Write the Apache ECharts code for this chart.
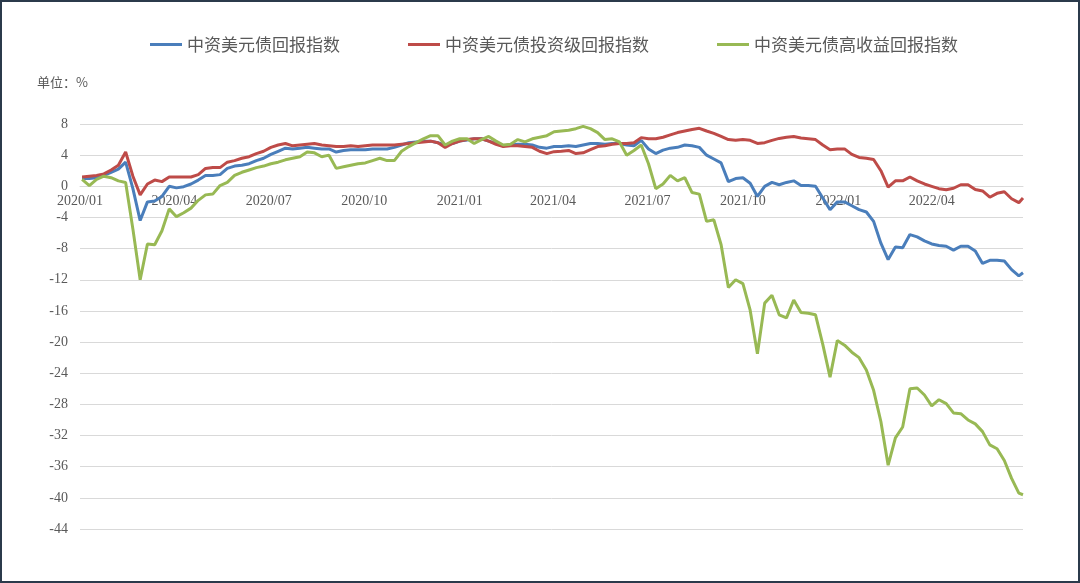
<html><head><meta charset="utf-8"><script src="https://cdn.jsdelivr.net/npm/echarts@6/dist/echarts.min.js"></script><style type="text/css">
        html, body { height: 100%; margin: 0px; padding: 0px; background: #fff; }
    </style></head><body><div id="main" style="width:1080px;height:583px;"></div><script type="text/javascript">
        // weekly (Friday) sampling, last point is the final day of the series
        var dates = [
            '2020-01-03','2020-01-10','2020-01-17','2020-01-24','2020-01-31','2020-02-07','2020-02-14','2020-02-21','2020-02-28',
            '2020-03-06','2020-03-13','2020-03-20','2020-03-27','2020-04-03','2020-04-10','2020-04-17','2020-04-24',
            '2020-05-01','2020-05-08','2020-05-15','2020-05-22','2020-05-29','2020-06-05','2020-06-12','2020-06-19','2020-06-26',
            '2020-07-03','2020-07-10','2020-07-17','2020-07-24','2020-07-31','2020-08-07','2020-08-14','2020-08-21','2020-08-28',
            '2020-09-04','2020-09-11','2020-09-18','2020-09-25','2020-10-02','2020-10-09','2020-10-16','2020-10-23','2020-10-30',
            '2020-11-06','2020-11-13','2020-11-20','2020-11-27','2020-12-04','2020-12-11','2020-12-18','2020-12-25',
            '2021-01-01','2021-01-08','2021-01-15','2021-01-22','2021-01-29','2021-02-05','2021-02-12','2021-02-19','2021-02-26',
            '2021-03-05','2021-03-12','2021-03-19','2021-03-26','2021-04-02','2021-04-09','2021-04-16','2021-04-23','2021-04-30',
            '2021-05-07','2021-05-14','2021-05-21','2021-05-28','2021-06-04','2021-06-11','2021-06-18','2021-06-25',
            '2021-07-02','2021-07-09','2021-07-16','2021-07-23','2021-07-30','2021-08-06','2021-08-13','2021-08-20','2021-08-27',
            '2021-09-03','2021-09-10','2021-09-17','2021-09-24','2021-10-01','2021-10-08','2021-10-15','2021-10-22','2021-10-29',
            '2021-11-05','2021-11-12','2021-11-19','2021-11-26','2021-12-03','2021-12-10','2021-12-17','2021-12-24','2021-12-31',
            '2022-01-07','2022-01-14','2022-01-21','2022-01-28','2022-02-04','2022-02-11','2022-02-18','2022-02-25',
            '2022-03-04','2022-03-11','2022-03-18','2022-03-25','2022-04-01','2022-04-08','2022-04-15','2022-04-22','2022-04-29',
            '2022-05-06','2022-05-13','2022-05-20','2022-05-27','2022-06-03','2022-06-10','2022-06-17','2022-06-24','2022-06-28'
        ];
        var names = ['中资美元债回报指数', '中资美元债投资级回报指数', '中资美元债高收益回报指数'];
        var tickMonths = ['2020-01-01','2020-04-01','2020-07-01','2020-10-01','2021-01-01','2021-04-01','2021-07-01','2021-10-01','2022-01-01','2022-04-01'];

        var totalIdx = [
            1.0,1.0,1.1,1.4,1.8,2.2,3.1,-0.3,-4.4,-2.0,-1.9,-1.3,0.0,-0.2,-0.05,0.3,0.8,1.4,1.4,1.5,
            2.3,2.6,2.7,2.9,3.3,3.6,4.1,4.5,4.9,4.8,4.9,5.0,4.9,4.8,4.8,4.4,4.6,4.7,4.7,4.7,
            4.8,4.8,4.8,5.0,5.3,5.6,5.7,5.8,5.8,5.6,5.3,5.5,5.8,5.95,6.1,6.1,5.8,5.5,5.2,5.3,
            5.4,5.4,5.3,5.0,4.9,5.1,5.1,5.2,5.1,5.3,5.5,5.5,5.4,5.5,5.5,5.3,5.2,5.9,4.8,4.2,
            4.65,4.9,5.0,5.3,5.2,5.0,4.0,3.5,3.0,0.6,1.0,1.1,0.4,-1.3,0.0,0.5,0.2,0.5,0.7,0.1,
            0.1,0.0,-1.5,-3.0,-2.0,-2.0,-2.5,-3.0,-3.3,-4.5,-7.3,-9.4,-7.8,-7.9,-6.2,-6.5,-7.0,-7.4,-7.6,-7.7,
            -8.2,-7.7,-7.7,-8.3,-9.9,-9.5,-9.5,-9.6,-10.7,-11.5,-11.1
        ];
        var igIdx = [
            1.2,1.3,1.4,1.6,2.1,2.7,4.4,1.3,-1.1,0.3,0.8,0.6,1.2,1.2,1.2,1.2,1.5,2.3,2.4,2.4,
            3.1,3.3,3.6,3.8,4.2,4.5,5.0,5.3,5.5,5.2,5.3,5.4,5.5,5.3,5.2,5.1,5.1,5.2,5.1,5.2,
            5.3,5.3,5.3,5.3,5.4,5.5,5.6,5.7,5.8,5.6,5.0,5.5,5.8,6.0,6.1,6.1,5.8,5.4,5.1,5.2,
            5.2,5.1,5.0,4.5,4.2,4.45,4.5,4.6,4.2,4.3,4.7,5.1,5.2,5.4,5.5,5.5,5.6,6.25,6.1,6.1,
            6.3,6.6,6.9,7.1,7.3,7.45,7.1,6.8,6.4,6.0,5.9,6.0,5.9,5.5,5.6,5.9,6.15,6.3,6.4,6.2,
            6.1,6.0,5.3,4.7,4.8,4.8,4.1,3.7,3.6,3.45,2.0,-0.1,0.7,0.7,1.2,0.7,0.3,0.0,-0.3,-0.45,
            -0.25,0.2,0.2,-0.4,-0.6,-1.4,-0.9,-0.7,-1.6,-2.1,-1.5
        ];
        var hyIdx = [
            0.9,0.1,0.9,1.3,1.1,0.7,0.5,-5.5,-12.0,-7.4,-7.5,-5.7,-2.9,-3.9,-3.4,-2.8,-1.8,-1.1,-1.0,0.1,
            0.5,1.4,1.8,2.1,2.4,2.6,2.9,3.1,3.4,3.6,3.8,4.4,4.3,3.8,4.0,2.3,2.5,2.7,2.9,3.0,
            3.3,3.6,3.3,3.3,4.5,5.1,5.6,6.1,6.5,6.5,5.3,5.8,6.1,6.1,5.5,6.0,6.4,5.8,5.3,5.4,
            6.0,5.7,6.1,6.3,6.5,7.0,7.1,7.2,7.4,7.7,7.4,6.9,6.0,6.1,5.7,4.0,4.6,5.3,2.9,-0.3,
            0.3,1.4,0.7,1.1,-0.8,-1.0,-4.5,-4.3,-7.5,-13.0,-12.0,-12.5,-15.9,-21.5,-15.0,-14.0,-16.5,-16.9,-14.6,-16.2,
            -16.3,-16.5,-20.3,-24.5,-19.8,-20.4,-21.3,-22.0,-23.6,-26.2,-30.2,-35.8,-32.3,-30.9,-26.0,-25.9,-26.8,-28.2,-27.4,-27.9,
            -29.1,-29.2,-30.0,-30.5,-31.5,-33.2,-33.7,-35.2,-37.5,-39.4,-39.6
        ];

        var yMin = -44, yMax = 8, yStep = 4;
        var colors = ['#4a7ebb', '#be4b48', '#98b954'];
        var labelFont = '"Liberation Serif", "Times New Roman", serif';
        var cjkFont = '"Noto Sans CJK SC", sans-serif';

        function toTime(s) {
            var p = s.split('-');
            return new Date(+p[0], +p[1] - 1, +p[2]).getTime();
        }
        function pairs(vals) {
            var res = [];
            for (var i = 0; i < vals.length; i++) res.push([toTime(dates[i]), vals[i]]);
            return res;
        }
        var tickValues = tickMonths.map(toTime);
        var xMax = toTime(dates[dates.length - 1]);

        // plot area: top 124, bottom 529 -> move the date axis up to the zero line
        var gridTop = 124, gridBottom = 54, plotH = 583 - gridTop - gridBottom;
        var zeroOffset = -plotH * (0 - yMin) / (yMax - yMin);

        var myChart = echarts.init(document.getElementById('main'));
        var option = {
            backgroundColor: '#ffffff',
            animation: false,
            color: colors,
            graphic: [
                {type: 'rect', shape: {x: 1, y: 1, width: 1078, height: 581},
                 style: {fill: 'none', stroke: '#2b3a4b', lineWidth: 2}, silent: true},
                {type: 'text', left: 37, top: 76,
                 style: {text: '单位：%', fill: '#595959', font: '13px ' + cjkFont}}
            ],
            legend: {
                left: 145,
                top: 31,
                icon: 'rect',
                itemWidth: 32,
                itemHeight: 3,
                itemGap: 68,
                textStyle: {fontFamily: cjkFont, fontSize: 17, color: '#595959'},
                data: names
            },
            grid: {left: 80, right: 57, top: gridTop, bottom: gridBottom, containLabel: false},
            xAxis: {
                type: 'value',
                min: tickValues[0],
                max: xMax,
                offset: zeroOffset,
                z: 0,
                axisLine: {show: true, onZero: false, lineStyle: {color: '#d9d9d9', width: 1}},
                axisTick: {show: false},
                splitLine: {show: false},
                axisLabel: {
                    customValues: tickValues,
                    margin: 8,
                    color: '#595959',
                    fontFamily: labelFont,
                    fontSize: 14,
                    formatter: function (v) {
                        var d = new Date(v);
                        var m = d.getMonth() + 1;
                        return d.getFullYear() + '/' + (m < 10 ? '0' + m : m);
                    }
                }
            },
            yAxis: {
                type: 'value',
                min: yMin,
                max: yMax,
                interval: yStep,
                axisLine: {show: false, onZero: false},
                axisTick: {show: false},
                splitLine: {lineStyle: {color: '#d9d9d9', width: 1}},
                axisLabel: {margin: 12, color: '#595959', fontFamily: labelFont, fontSize: 14}
            },
            series: [
                {name: names[0], type: 'line', z: 3, showSymbol: false, symbol: 'none', lineStyle: {width: 3}, data: pairs(totalIdx)},
                {name: names[1], type: 'line', z: 3, showSymbol: false, symbol: 'none', lineStyle: {width: 3}, data: pairs(igIdx)},
                {name: names[2], type: 'line', z: 3, showSymbol: false, symbol: 'none', lineStyle: {width: 3}, data: pairs(hyIdx)}
            ]
        };
        myChart.setOption(option);
    </script></body></html>
